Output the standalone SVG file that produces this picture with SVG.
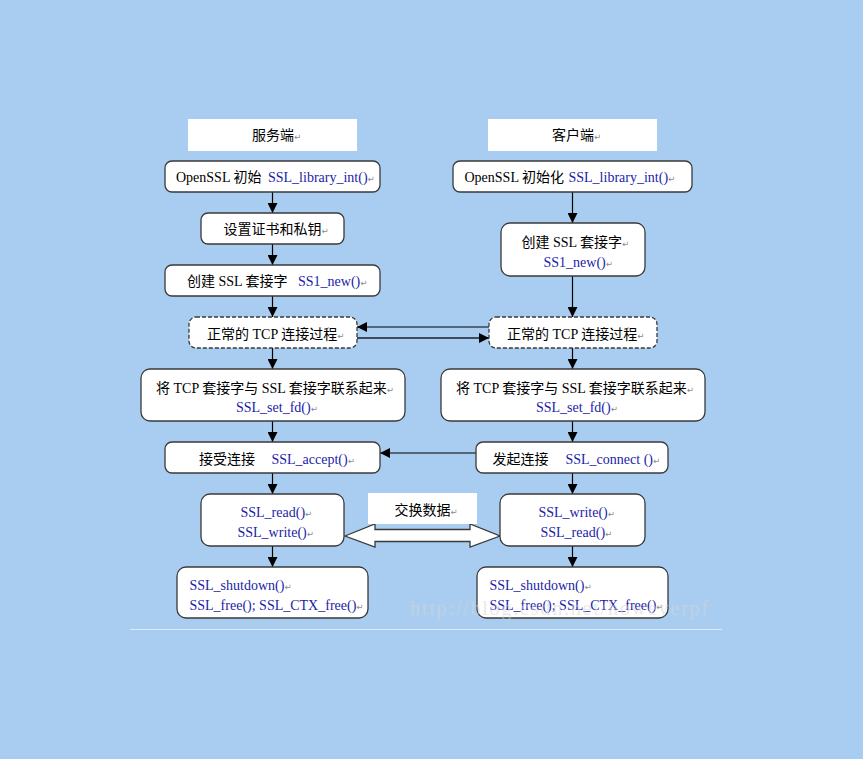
<svg xmlns="http://www.w3.org/2000/svg" width="863" height="759" viewBox="0 0 863 759">
<defs>
<marker id="ah" viewBox="0 0 10 10" refX="10" refY="5" markerWidth="10" markerHeight="10" markerUnits="userSpaceOnUse" orient="auto">
<path d="M0,0 L10,5 L0,10 Z" fill="#000"/>
</marker>
<style>
.bg{fill:#A9CDF0}
.hdr{fill:#fff}
.box{fill:#fff;stroke:#3a3a3a;stroke-width:1.3}
.dash{stroke-dasharray:4 2}
.t{font-family:"Liberation Serif","Noto Sans CJK SC",serif;font-size:14px;fill:#000}
.f{fill:#1c1ca8}
.r{font-family:"DejaVu Sans",sans-serif;font-size:8.5px;fill:#8a8a8a}
.c{stroke:#000;stroke-width:1.2;fill:none}
</style>
</defs>
<rect class="bg" x="0" y="0" width="863" height="759"/>

<g id="connectors">
<line class="c" x1="272.5" y1="192" x2="272.5" y2="213" marker-end="url(#ah)"/>
<line class="c" x1="272.5" y1="244" x2="272.5" y2="265" marker-end="url(#ah)"/>
<line class="c" x1="272.5" y1="296" x2="272.5" y2="317" marker-end="url(#ah)"/>
<line class="c" x1="272.5" y1="348" x2="272.5" y2="369" marker-end="url(#ah)"/>
<line class="c" x1="272.5" y1="421" x2="272.5" y2="442" marker-end="url(#ah)"/>
<line class="c" x1="272.5" y1="473" x2="272.5" y2="494" marker-end="url(#ah)"/>
<line class="c" x1="272.5" y1="546" x2="272.5" y2="567" marker-end="url(#ah)"/>
<line class="c" x1="572.5" y1="192" x2="572.5" y2="223" marker-end="url(#ah)"/>
<line class="c" x1="572.5" y1="276" x2="572.5" y2="317" marker-end="url(#ah)"/>
<line class="c" x1="572.5" y1="348" x2="572.5" y2="369" marker-end="url(#ah)"/>
<line class="c" x1="572.5" y1="421" x2="572.5" y2="442" marker-end="url(#ah)"/>
<line class="c" x1="572.5" y1="473" x2="572.5" y2="494" marker-end="url(#ah)"/>
<line class="c" x1="572.5" y1="546" x2="572.5" y2="567" marker-end="url(#ah)"/>
<line class="c" x1="489" y1="327" x2="357" y2="327" marker-end="url(#ah)"/>
<line x1="357" y1="338" x2="489" y2="338" stroke="#3f4a5c" stroke-width="2.2" marker-end="url(#ah)"/>
<line class="c" x1="476" y1="453" x2="380" y2="453" marker-end="url(#ah)"/>
<polygon points="345,536 375,524 375,529.5 470,529.5 470,524 500,536 470,547 470,541.5 375,541.5 375,547" fill="#fff" stroke="#3a3a3a" stroke-width="1.3"/>
</g>

<g id="hdr-server"><rect class="hdr" x="188" y="119" width="169" height="32"/>
<text class="t" x="252" y="140">服务端<tspan class="r">↵</tspan></text></g>
<g id="hdr-client"><rect class="hdr" x="488" y="119" width="169" height="32"/>
<text class="t" x="552" y="140">客户端<tspan class="r">↵</tspan></text></g>

<g id="s-init"><rect class="box" x="165" y="161" width="215" height="31" rx="7"/>
<text class="t" x="176" y="182">OpenSSL 初始<tspan class="f" x="268">SSL_library_int()</tspan><tspan class="r">↵</tspan></text></g>
<g id="s-cert"><rect class="box" x="201" y="213" width="143" height="31" rx="7"/>
<text class="t" x="223.5" y="234">设置证书和私钥<tspan class="r">↵</tspan></text></g>
<g id="s-new"><rect class="box" x="165" y="265" width="215" height="31" rx="7"/>
<text class="t" x="187" y="286">创建 SSL 套接字<tspan class="f" x="298">SS1_new()</tspan><tspan class="r">↵</tspan></text></g>
<g id="s-tcp"><rect class="box dash" x="189" y="317" width="168" height="31" rx="7"/>
<text class="t" x="207" y="338.5">正常的 TCP 连接过程<tspan class="r">↵</tspan></text></g>
<g id="s-fd"><rect class="box" x="141" y="369" width="264" height="52" rx="9"/>
<text class="t" x="156" y="392.5">将 TCP 套接字与 SSL 套接字联系起来<tspan class="r">↵</tspan></text>
<text class="t f" x="236" y="412">SSL_set_fd()<tspan class="r">↵</tspan></text></g>
<g id="s-accept"><rect class="box" x="165" y="442" width="215" height="31" rx="7"/>
<text class="t" x="199" y="464">接受连接<tspan class="f" x="271.5">SSL_accept()</tspan><tspan class="r">↵</tspan></text></g>
<g id="s-rw"><rect class="box" x="201" y="494" width="143" height="52" rx="9"/>
<text class="t f" x="240.5" y="517">SSL_read()<tspan class="r">↵</tspan></text>
<text class="t f" x="237.5" y="537">SSL_write()<tspan class="r">↵</tspan></text></g>
<g id="s-free"><rect class="box" x="177" y="567" width="191" height="51" rx="9"/>
<text class="t f" x="189.5" y="590">SSL_shutdown()<tspan class="r">↵</tspan></text>
<text class="t f" x="189.5" y="610">SSL_free(); SSL_CTX_free()<tspan class="r">↵</tspan></text></g>

<g id="c-init"><rect class="box" x="453" y="161" width="239" height="31" rx="7"/>
<text class="t" x="464.5" y="182">OpenSSL 初始化<tspan class="f" x="568.5">SSL_library_int()</tspan><tspan class="r">↵</tspan></text></g>
<g id="c-new"><rect class="box" x="501" y="223" width="144" height="53" rx="9"/>
<text class="t" x="521.5" y="246.5">创建 SSL 套接字<tspan class="r">↵</tspan></text>
<text class="t f" x="543.5" y="267">SS1_new()<tspan class="r">↵</tspan></text></g>
<g id="c-tcp"><rect class="box dash" x="489" y="317" width="168" height="31" rx="7"/>
<text class="t" x="507" y="338.5">正常的 TCP 连接过程<tspan class="r">↵</tspan></text></g>
<g id="c-fd"><rect class="box" x="441" y="369" width="264" height="52" rx="9"/>
<text class="t" x="456" y="392.5">将 TCP 套接字与 SSL 套接字联系起来<tspan class="r">↵</tspan></text>
<text class="t f" x="536" y="412">SSL_set_fd()<tspan class="r">↵</tspan></text></g>
<g id="c-connect"><rect class="box" x="476" y="442" width="192" height="31" rx="7"/>
<text class="t" x="492.5" y="464">发起连接<tspan class="f" x="565.5">SSL_connect ()</tspan><tspan class="r">↵</tspan></text></g>
<g id="c-rw"><rect class="box" x="500" y="494" width="145" height="52" rx="9"/>
<text class="t f" x="538.5" y="517">SSL_write()<tspan class="r">↵</tspan></text>
<text class="t f" x="540.5" y="537">SSL_read()<tspan class="r">↵</tspan></text></g>
<g id="c-free"><rect class="box" x="477" y="567" width="191" height="51" rx="9"/>
<text class="t f" x="489.5" y="590">SSL_shutdown()<tspan class="r">↵</tspan></text>
<text class="t f" x="489.5" y="610">SSL_free(); SSL_CTX_free()<tspan class="r">↵</tspan></text></g>

<g id="exchange"><rect class="hdr" x="368" y="493" width="109" height="31"/>
<text class="t" x="394.5" y="515">交换数据<tspan class="r">↵</tspan></text></g>

<line x1="130" y1="629.5" x2="722" y2="629.5" stroke="#DCEBFA" stroke-width="1"/>
<text x="410" y="615" font-family="Liberation Serif, serif" font-size="20" textLength="298" fill="#d6d6d6" opacity="0.5">http://blog.csdn.net/howeverpf</text>
</svg>
